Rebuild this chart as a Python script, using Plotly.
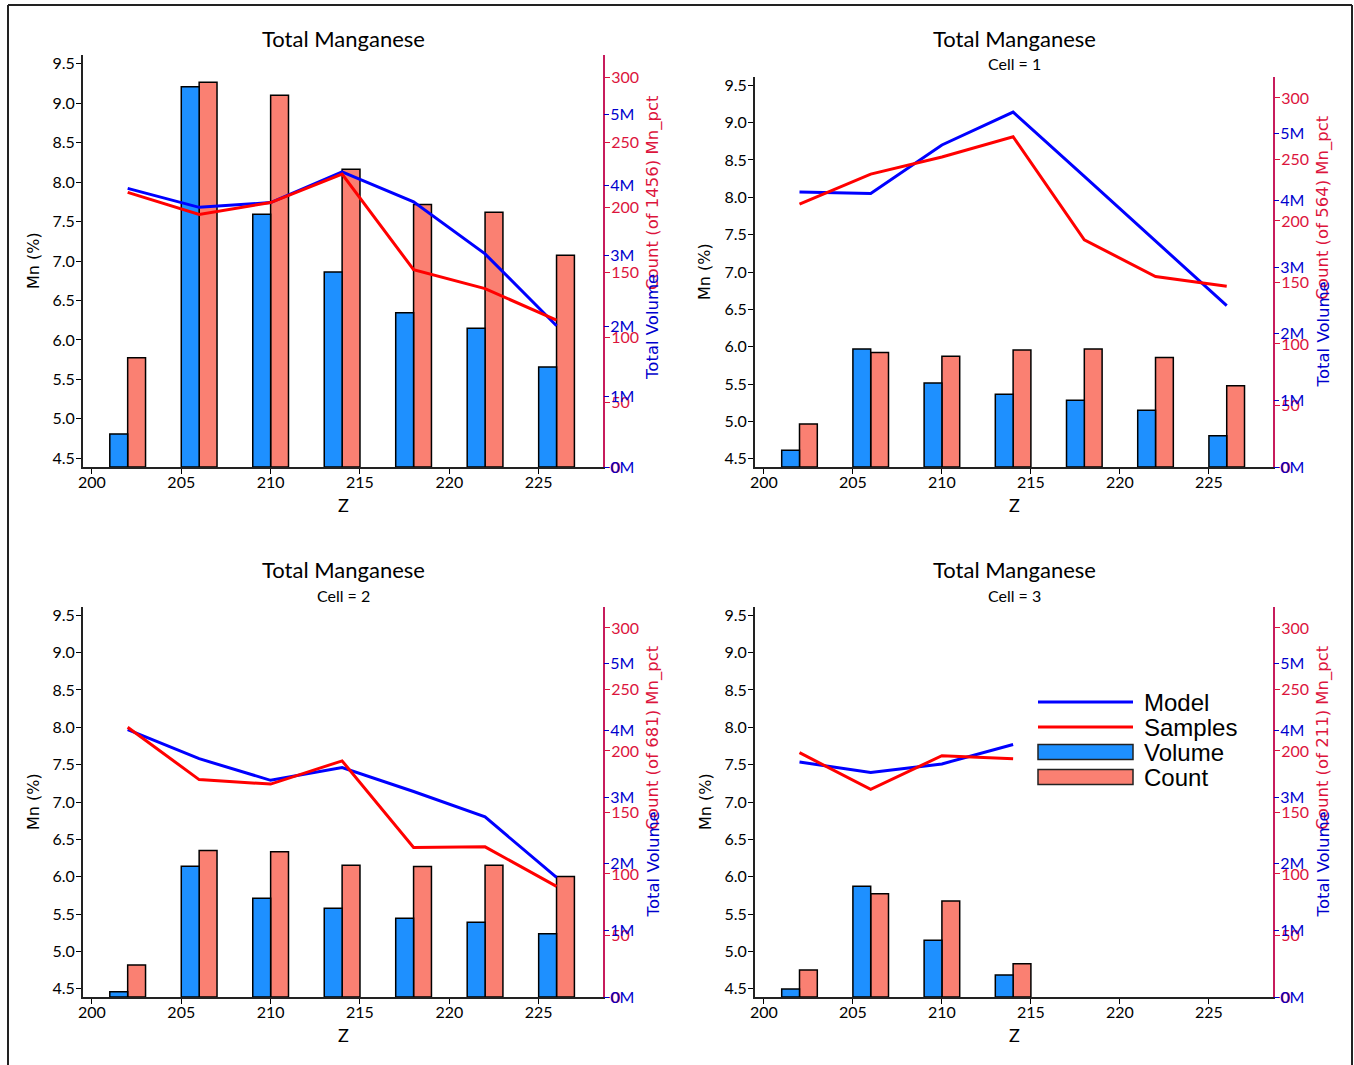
import plotly.graph_objects as go

W, H = 1354, 1065

z_levels = [202, 206, 210, 214, 218, 222, 226]

titles = ["Total Manganese", "Total Manganese", "Total Manganese", "Total Manganese"]
subtitles = ["", "Cell = 1", "Cell = 2", "Cell = 3"]
count_totals = [1456, 564, 681, 211]

vol_ticks = [0, 1, 2, 3, 4, 5]
vol_labels = ["0M", "1M", "2M", "3M", "4M", "5M"]
count_ticks = [0, 50, 100, 150, 200, 250, 300]
mn_ticks = [4.5, 5, 5.5, 6, 6.5, 7, 7.5, 8, 8.5, 9, 9.5]
z_ticks = [200, 205, 210, 215, 220, 225]

model_all = [7.92, 7.68, 7.74, 8.13, 7.75, 7.09, 6.18]
samples_all = [7.87, 7.59, 7.74, 8.10, 6.89, 6.65, 6.25]
volume_all = [0.47, 5.40, 3.59, 2.77, 2.19, 1.97, 1.42]
count_all = [84, 296, 286, 229, 202, 196, 163]

model_c1 = [8.07, 8.05, 8.70, 9.14, 8.28, 7.42, 6.55]
samples_c1 = [7.91, 8.31, 8.54, 8.81, 7.43, 6.94, 6.81]
volume_c1 = [0.25, 1.77, 1.26, 1.09, 1.00, 0.85, 0.47]
count_c1 = [35, 93, 90, 95, 96, 89, 66]

model_c2 = [7.97, 7.58, 7.29, 7.46, 7.14, 6.80, 5.99]
samples_c2 = [8.00, 7.30, 7.24, 7.55, 6.39, 6.40, 5.87]
volume_c2 = [0.08, 1.96, 1.48, 1.33, 1.18, 1.12, 0.95]
count_c2 = [26, 119, 118, 107, 106, 107, 98]

z_c3 = [202, 206, 210, 214]
model_c3 = [7.535, 7.395, 7.51, 7.77]
samples_c3 = [7.66, 7.17, 7.62, 7.58]
volume_c3 = [0.12, 1.66, 0.85, 0.33]
count_c3 = [22, 84, 78, 27]

panels_data = [
    (z_levels, model_all, samples_all, volume_all, count_all),
    (z_levels, model_c1, samples_c1, volume_c1, count_c1),
    (z_levels, model_c2, samples_c2, volume_c2, count_c2),
    (z_c3, model_c3, samples_c3, volume_c3, count_c3),
]

# panel boxes in pixels: left, right, top, bottom
boxes = [(83, 603, 55, 467), (755, 1273, 77, 467), (83, 603, 607, 997), (755, 1273, 607, 997)]

VOL_BLUE = "#1E90FF"
CNT_RED = "#FA8072"
AX_BLUE = "#0000CD"
AX_RED = "#DC143C"
SPINE = "#C71C5C"
TICK_FONT = dict(family="Lato", size=16, color="black")


def px(x):
    return x / W


def py(y):
    return 1 - y / H


def sfx(n):
    return "" if n == 1 else str(n)


fig = go.Figure()
layout = dict(width=W, height=H, margin=dict(l=0, r=0, t=0, b=0),
              plot_bgcolor="white", paper_bgcolor="white", showlegend=False)
annotations = []
shapes = []

for i, (zs, model, samples, volume, count) in enumerate(panels_data):
    x0, x1, y0, y1 = boxes[i]
    xn = i + 1
    yc, yv, ym = 3 * i + 1, 3 * i + 2, 3 * i + 3
    xref = "x" + sfx(xn)

    fig.add_trace(go.Bar(x=zs, y=volume, width=1, offset=-1, xaxis=xref, yaxis="y" + sfx(yv),
                         marker=dict(color=VOL_BLUE, line=dict(color="black", width=1.5))))
    fig.add_trace(go.Bar(x=zs, y=count, width=1, offset=0, xaxis=xref, yaxis="y" + sfx(yc),
                         marker=dict(color=CNT_RED, line=dict(color="black", width=1.5))))
    fig.add_trace(go.Scatter(x=zs, y=model, mode="lines", xaxis=xref, yaxis="y" + sfx(ym),
                             line=dict(color="#0000FF", width=3)))
    fig.add_trace(go.Scatter(x=zs, y=samples, mode="lines", xaxis=xref, yaxis="y" + sfx(ym),
                             line=dict(color="#FF0000", width=3)))

    layout["xaxis" + sfx(xn)] = dict(
        domain=[px(x0), px(x1)], anchor="y" + sfx(yc), range=[199.5, 228.6],
        tickvals=z_ticks, ticks="outside", ticklen=5, ticklabelstandoff=-5,
        tickcolor="black", showline=True, linecolor="#222", linewidth=2,
        showgrid=False, zeroline=False, tickfont=TICK_FONT, automargin=False)
    layout["yaxis" + sfx(yc)] = dict(
        domain=[py(y1), py(y0)], anchor=xref, side="right", range=[0, 317],
        tickvals=count_ticks, ticks="outside", ticklen=5, ticklabelstandoff=-2,
        tickcolor=AX_RED, tickfont=dict(family="Lato", size=16, color=AX_RED),
        showline=True, linecolor=SPINE, linewidth=2, showgrid=False,
        zeroline=False, automargin=False)
    layout["yaxis" + sfx(yv)] = dict(
        overlaying="y" + sfx(yc), anchor=xref, side="right", range=[0, 5.85],
        tickmode="array", tickvals=vol_ticks, ticktext=vol_labels, ticks="outside", ticklen=5,
        ticklabelstandoff=-2,
        tickcolor=AX_BLUE, tickfont=dict(family="Lato", size=16, color=AX_BLUE),
        showline=False, showgrid=False, zeroline=False, automargin=False)
    layout["yaxis" + sfx(ym)] = dict(
        overlaying="y" + sfx(yc), anchor=xref, side="left", range=[4.39, 9.61],
        tickvals=mn_ticks, tickformat=".1f", ticklabelstandoff=-2,
        ticks="outside", ticklen=5, tickcolor="black", tickfont=TICK_FONT,
        showline=True, linecolor="#222", linewidth=2, showgrid=False,
        zeroline=False, automargin=False)

    cx = (x0 + x1) / 2
    top = 38 if i < 2 else 569
    annotations.append(dict(x=px(cx), y=py(top), text=titles[i], showarrow=False,
                            xref="paper", yref="paper", xanchor="center", yanchor="middle",
                            font=dict(family="Lato", size=22, color="black")))
    if subtitles[i]:
        annotations.append(dict(x=px(cx), y=py(top + 26), text=subtitles[i], showarrow=False,
                                xref="paper", yref="paper", xanchor="center", yanchor="middle",
                                font=dict(family="Lato", size=16, color="black")))
    annotations.append(dict(x=px(cx), y=py(y1 + 38), text="Z", showarrow=False,
                            xref="paper", yref="paper", xanchor="center", yanchor="middle",
                            font=dict(family="Lato", size=18, color="black")))
    annotations.append(dict(x=px(x0 - 50), y=py((y0 + y1) / 2), text="Mn (%)", textangle=-90,
                            showarrow=False, xref="paper", yref="paper",
                            xanchor="center", yanchor="middle",
                            font=dict(family="DejaVu Sans", size=16, color="black")))
    h = y1 - y0
    annotations.append(dict(x=px(x1 + 50), y=py(y1 - 0.665 * h),
                            text=f"Count (of {count_totals[i]}) Mn_pct", textangle=-90,
                            showarrow=False, xref="paper", yref="paper",
                            xanchor="center", yanchor="middle",
                            font=dict(family="DejaVu Sans", size=16.5, color=AX_RED)))
    annotations.append(dict(x=px(x1 + 50), y=py(y1 - 0.34 * h), text="Total Volume",
                            textangle=-90, showarrow=False, xref="paper", yref="paper",
                            xanchor="center", yanchor="middle",
                            font=dict(family="DejaVu Sans", size=16.5, color=AX_BLUE)))

# legend drawn in the last panel
leg_x0, leg_x1, leg_tx = 1038, 1133, 1142
leg_items = [("Model", "line", "#0000FF", 702), ("Samples", "line", "#FF0000", 727),
             ("Volume", "bar", VOL_BLUE, 752), ("Count", "bar", CNT_RED, 777)]
for name, kind, color, yy in leg_items:
    if kind == "line":
        shapes.append(dict(type="line", xref="paper", yref="paper", x0=px(leg_x0), x1=px(leg_x1),
                           y0=py(yy), y1=py(yy), line=dict(color=color, width=3)))
    else:
        shapes.append(dict(type="rect", xref="paper", yref="paper", x0=px(leg_x0), x1=px(leg_x1),
                           y0=py(yy - 7.5), y1=py(yy + 7.5), fillcolor=color,
                           line=dict(color="#222", width=1.5)))
    annotations.append(dict(x=px(leg_tx), y=py(yy), text=name, showarrow=False,
                            xref="paper", yref="paper", xanchor="left", yanchor="middle",
                            font=dict(family="Liberation Sans", size=24, color="black")))

# outer frame
shapes.append(dict(type="line", xref="paper", yref="paper", x0=px(8), x1=px(1352),
                   y0=py(5), y1=py(5), line=dict(color="#222", width=2)))
shapes.append(dict(type="line", xref="paper", yref="paper", x0=px(8), x1=px(8),
                   y0=py(5), y1=py(1065), line=dict(color="#222", width=2)))
shapes.append(dict(type="line", xref="paper", yref="paper", x0=px(1352), x1=px(1352),
                   y0=py(5), y1=py(1065), line=dict(color="#222", width=2)))

layout["annotations"] = annotations
layout["shapes"] = shapes
fig.update_layout(**layout)
fig.write_html("out.html", config={"displayModeBar": False},
               post_script="document.body.style.margin='0px';")
